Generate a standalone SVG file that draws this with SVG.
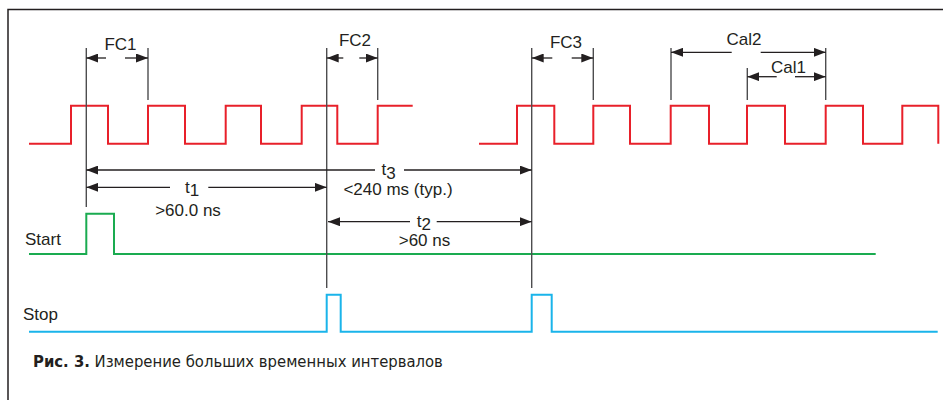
<svg xmlns="http://www.w3.org/2000/svg" width="943" height="400" viewBox="0 0 943 400">
<style>
.lbl{font-family:"Liberation Sans",Arial,sans-serif;font-size:17px;fill:#231f20}
.mid{text-anchor:middle}
.sig{fill:none;stroke-width:2;stroke-linejoin:miter}
.ref{stroke:#4d4d4f;stroke-width:1.4;fill:none}
.dim{stroke:#231f20;stroke-width:1.3;fill:none}
.cap{font-family:"DejaVu Sans Condensed","DejaVu Sans",sans-serif;font-stretch:condensed;font-size:16.5px;fill:#231f20}
</style>
<defs>
<marker id="ah" viewBox="0 0 12 9" refX="12" refY="4.5" markerWidth="12" markerHeight="9" markerUnits="userSpaceOnUse" orient="auto-start-reverse">
<path d="M0,0 L12,4.5 L0,9 z" fill="#231f20"/>
</marker>
</defs>
<rect width="943" height="400" fill="#fff"/>
<g id="frame">
<path d="M8,400 V9.5 H943" fill="none" stroke="#231f20" stroke-width="1.5"/>
</g>
<g id="clock">
<path class="sig" stroke="#e8202a" d="M29,143.7 H71 V105.7 H108 V143.7 H148 V105.7 H185 V143.7 H225.7 V105.7 H261 V143.7 H301.7 V105.7 H337.3 V143.7 H377.7 V105.7 H412.7"/>
<path class="sig" stroke="#e8202a" d="M479,143.7 H517 V105.7 H554.3 V143.7 H593.3 V105.7 H630 V143.7 H670.7 V105.7 H709 V143.7 H747 V105.7 H785 V143.7 H825.7 V105.7 H863 V143.7 H902.3 V105.7 H938.3 V143.7"/>
</g>
<g id="start">
<path class="sig" stroke="#1aab50" d="M29,254 H86.3 V213.7 H114 V254 H875.7"/>
<text class="lbl" x="25" y="245">Start</text>
</g>
<g id="stop">
<path class="sig" stroke="#1ab4ea" d="M29,331.7 H326.7 V294.7 H340.7 V331.7 H531.7 V294.7 H551.7 V331.7 H937.7"/>
<text class="lbl" x="23" y="320">Stop</text>
</g>
<g id="connectors">
<line class="ref" x1="86.3" y1="48" x2="86.3" y2="207"/>
<line class="ref" x1="326.7" y1="48" x2="326.7" y2="288"/>
<line class="ref" x1="531.7" y1="48" x2="531.7" y2="288"/>
<line class="ref" x1="148" y1="48" x2="148" y2="100"/>
<line class="ref" x1="377.7" y1="48" x2="377.7" y2="100"/>
<line class="ref" x1="593.3" y1="48" x2="593.3" y2="100"/>
<line class="ref" x1="671" y1="48" x2="671" y2="100"/>
<line class="ref" x1="825.7" y1="48" x2="825.7" y2="100"/>
<line class="ref" x1="747.3" y1="68" x2="747.3" y2="100"/>
<line class="dim" x1="106" y1="58" x2="86.3" y2="58" marker-end="url(#ah)"/>
<line class="dim" x1="125" y1="58" x2="148" y2="58" marker-end="url(#ah)"/>
<line class="dim" x1="343.3" y1="58" x2="326.7" y2="58" marker-end="url(#ah)"/>
<line class="dim" x1="359.3" y1="58" x2="377.7" y2="58" marker-end="url(#ah)"/>
<line class="dim" x1="552.3" y1="58" x2="531.7" y2="58" marker-end="url(#ah)"/>
<line class="dim" x1="571.7" y1="58" x2="593.3" y2="58" marker-end="url(#ah)"/>
<line class="dim" x1="731.7" y1="52.3" x2="671" y2="52.3" marker-end="url(#ah)"/>
<line class="dim" x1="760.7" y1="52.3" x2="825.7" y2="52.3" marker-end="url(#ah)"/>
<line class="dim" x1="776.7" y1="76.7" x2="747.3" y2="76.7" marker-end="url(#ah)"/>
<line class="dim" x1="795" y1="76.7" x2="825.7" y2="76.7" marker-end="url(#ah)"/>
<line class="dim" x1="375" y1="170" x2="86.3" y2="170" marker-end="url(#ah)"/>
<line class="dim" x1="404" y1="170" x2="531.7" y2="170" marker-end="url(#ah)"/>
<line class="dim" x1="170" y1="187.3" x2="86.3" y2="187.3" marker-end="url(#ah)"/>
<line class="dim" x1="208.3" y1="187.3" x2="326.7" y2="187.3" marker-end="url(#ah)"/>
<line class="dim" x1="410" y1="221.7" x2="328" y2="221.7" marker-end="url(#ah)"/>
<line class="dim" x1="436.7" y1="221.7" x2="531.7" y2="221.7" marker-end="url(#ah)"/>
</g>
<g id="labels">
<text class="lbl mid" x="120.5" y="50">FC1</text>
<text class="lbl mid" x="355" y="45.7">FC2</text>
<text class="lbl mid" x="566" y="47.7">FC3</text>
<text class="lbl mid" x="744" y="45">Cal2</text>
<text class="lbl mid" x="788.5" y="73.3">Cal1</text>
<text class="lbl" x="381.5" y="175">t<tspan dy="3.5">3</tspan></text>
<text class="lbl mid" x="398" y="195">&lt;240 ms (typ.)</text>
<text class="lbl" x="185" y="192.7">t<tspan dy="3.5">1</tspan></text>
<text class="lbl mid" x="188" y="215.7">&gt;60.0 ns</text>
<text class="lbl" x="416.7" y="226.5">t<tspan dy="3.5">2</tspan></text>
<text class="lbl mid" x="424.5" y="246">&gt;60 ns</text>
</g>
<g id="caption">
<text class="cap" x="33" y="367"><tspan font-weight="bold">Рис. 3.</tspan> Измерение больших временных интервалов</text>
</g>
</svg>
